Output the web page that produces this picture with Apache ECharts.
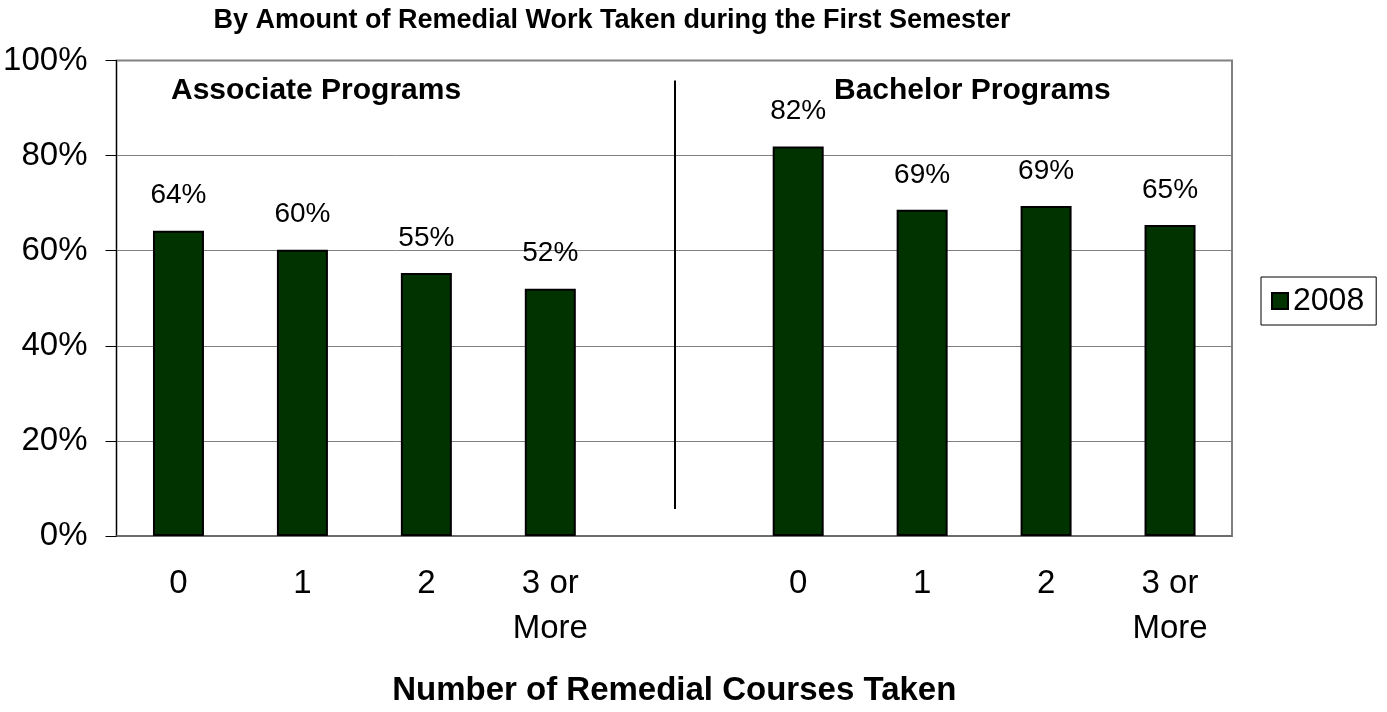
<!DOCTYPE html>
<html lang="en">
<head>
    <meta charset="UTF-8">
    <title>Remedial Work</title>
    <script src="https://cdn.jsdelivr.net/npm/echarts@6/dist/echarts.min.js"></script>
    <style>
        html, body { margin: 0; padding: 0; background: #fff; }
        #chart { width: 1387px; height: 712px; }
    </style>
</head>
<body>
    <div id="chart"></div>
    <script>
        // categories: associate programs, a blank gap slot, bachelor programs
        const categories = ['0', '1', '2', '3 or\nMore', '', '0', '1', '2', '3 or\nMore'];
        const values2008 = [64.2, 60.2, 55.3, 52.0, null, 81.9, 68.6, 69.4, 65.4];
        const yTicks = [0, 20, 40, 60, 80, 100];
        const seriesName = '2008';
        // divider between the two groups (category index 4, from/to in %)
        const dividerFrom = 5.7;
        const dividerTo = 95.8;

        const font = 'Liberation Sans, Arial, sans-serif';

        const chart = echarts.init(document.getElementById('chart'));
        chart.setOption({
            animation: false,
            title: {
                text: 'By Amount of Remedial Work Taken during the First Semester',
                left: 612,
                textAlign: 'center',
                top: 7,
                padding: 0,
                textStyle: { fontFamily: font, fontSize: 27, fontWeight: 'bold', color: '#000' }
            },
            legend: {
                data: [seriesName],
                left: 1261,
                top: 277,
                padding: [8, 12, 8, 10],
                itemWidth: 16,
                itemHeight: 16,
                itemGap: 6,
                icon: 'rect',
                borderColor: '#000',
                borderWidth: 1,
                textStyle: { fontFamily: font, fontSize: 32, color: '#000' }
            },
            grid: {
                left: 116.5,
                right: 155,
                top: 60.5,
                bottom: 172.5,
                show: true,
                borderColor: '#808080',
                borderWidth: 2
            },
            xAxis: {
                type: 'category',
                data: categories,
                name: 'Number of Remedial Courses Taken',
                nameLocation: 'middle',
                nameGap: 138,
                nameTextStyle: { fontFamily: font, fontSize: 33, fontWeight: 'bold', color: '#000' },
                axisLine: { lineStyle: { color: '#666', width: 1.5 } },
                axisTick: { length: 11, lineStyle: { color: '#666' } },
                axisLabel: {
                    margin: 25,
                    interval: 0,
                    fontFamily: font,
                    fontSize: 33,
                    lineHeight: 45,
                    color: '#000'
                }
            },
            yAxis: {
                type: 'value',
                min: yTicks[0],
                max: yTicks[yTicks.length - 1],
                interval: 20,
                axisLine: { show: true, lineStyle: { color: '#000', width: 1 } },
                axisTick: { show: true, length: 11, lineStyle: { color: '#000' } },
                axisLabel: {
                    margin: 29,
                    fontFamily: font,
                    fontSize: 33,
                    color: '#000',
                    formatter: '{value}%'
                },
                splitLine: { lineStyle: { color: '#808080', width: 1 } }
            },
            series: [{
                name: seriesName,
                type: 'bar',
                data: values2008,
                barWidth: 51,
                itemStyle: { color: '#003300', borderColor: '#000', borderWidth: 2 },
                label: {
                    show: true,
                    position: 'top',
                    distance: 21,
                    fontFamily: font,
                    fontSize: 28,
                    color: '#000',
                    formatter: p => Math.round(p.value) + '%'
                },
                markLine: {
                    silent: true,
                    symbol: ['none', 'none'],
                    label: { show: false },
                    lineStyle: { color: '#000', width: 2, type: 'solid' },
                    data: [[
                        { coord: [4, dividerFrom] },
                        { coord: [4, dividerTo] }
                    ]]
                }
            }],
            graphic: [
                {
                    type: 'text',
                    left: 171,
                    top: 76,
                    style: { text: 'Associate Programs', font: 'bold 30px ' + font, fill: '#000' }
                },
                {
                    type: 'text',
                    left: 834,
                    top: 76,
                    style: { text: 'Bachelor Programs', font: 'bold 30px ' + font, fill: '#000' }
                }
            ]
        });
    </script>
</body>
</html>
